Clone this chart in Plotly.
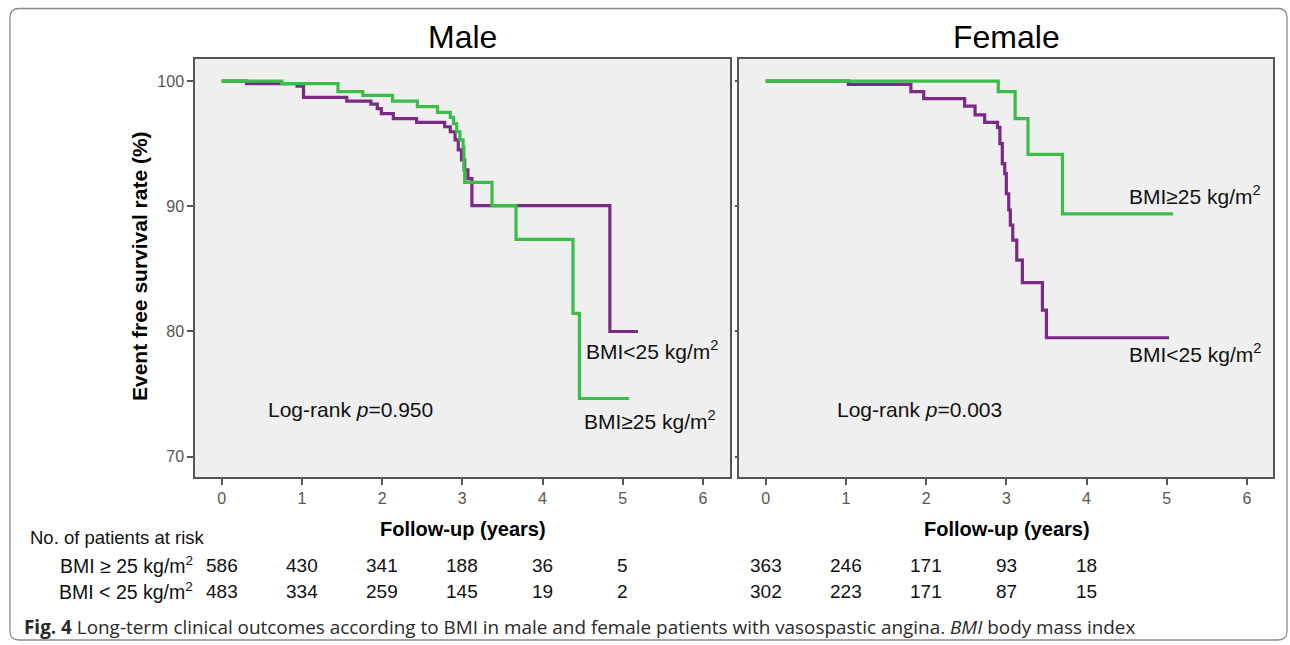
import plotly.graph_objects as go

# ---------------- data ----------------
male_ge25_t = [0, 0.75, 1.45, 1.76, 2.13, 2.44, 2.69, 2.85, 2.89, 2.93, 2.97, 3.01, 3.02, 3.03, 3.37, 3.67, 4.38, 4.46, 5.08]
male_ge25_s = [100, 99.8, 99.15, 98.85, 98.4, 97.95, 97.5, 97.1, 96.6, 95.95, 95.3, 94.75, 92.9, 91.9, 90.05, 87.35, 81.45, 74.65, 74.65]

male_lt25_t = [0, 0.31, 0.94, 1.02, 1.56, 1.86, 1.94, 1.99, 2.14, 2.43, 2.78, 2.85, 2.91, 2.95, 2.99, 3.03, 3.07, 3.12, 4.84, 5.19]
male_lt25_s = [100, 99.8, 99.6, 98.7, 98.4, 98.15, 97.8, 97.4, 97.0, 96.7, 96.35, 95.95, 95.3, 94.5, 93.7, 92.9, 92.2, 90.05, 80.0, 80.0]

female_ge25_t = [0, 2.90, 3.11, 3.27, 3.70, 5.08]
female_ge25_s = [100, 99.15, 97.0, 94.15, 89.4, 89.4]

female_lt25_t = [0, 1.03, 1.81, 1.97, 2.48, 2.61, 2.73, 2.89, 2.92, 2.95, 2.98, 3.00, 3.03, 3.05, 3.08, 3.13, 3.20, 3.45, 3.50, 5.03]
female_lt25_s = [100, 99.73, 99.15, 98.6, 98.0, 97.3, 96.7, 96.3, 95.0, 93.4, 92.6, 91.0, 89.7, 88.5, 87.3, 85.7, 83.9, 81.7, 79.5, 79.5]

x_ticks = [0, 1, 2, 3, 4, 5, 6]
y_ticks = [70, 80, 90, 100]

risk_years_male = [0, 1, 2, 3, 4, 5]
risk_male_ge25 = [586, 430, 341, 188, 36, 5]
risk_male_lt25 = [483, 334, 259, 145, 19, 2]
risk_years_female = [0, 1, 2, 3, 4]
risk_female_ge25 = [363, 246, 171, 93, 18]
risk_female_lt25 = [302, 223, 171, 87, 15]

panel_titles = ["Male", "Female"]
p_values = ["0.950", "0.003"]

# ---------------- style ----------------
W, H = 1290, 645
GREEN = "#3bbd48"
PURPLE = "#7a2a84"
AXIS = "#555555"
FONT = "Liberation Sans, Arial, sans-serif"

def px(x):
    return x / W

def py(y):
    return 1 - y / H

fig = go.Figure()

def add_curve(t, s, color, xa, ya):
    fig.add_trace(go.Scatter(x=t, y=s, mode="lines", line=dict(color=color, width=3.2, shape="hv"),
                             xaxis=xa, yaxis=ya, showlegend=False, hoverinfo="skip"))

add_curve(male_lt25_t, male_lt25_s, PURPLE, "x", "y")
add_curve(male_ge25_t, male_ge25_s, GREEN, "x", "y")
add_curve(female_lt25_t, female_lt25_s, PURPLE, "x2", "y2")
add_curve(female_ge25_t, female_ge25_s, GREEN, "x2", "y2")

ax_common = dict(showgrid=False, zeroline=False, showline=True, linecolor=AXIS, linewidth=1.5,
                 mirror=True, ticks="outside", tickcolor=AXIS, tickwidth=1.5,
                 tickfont=dict(family=FONT, size=16, color="#555555"))

fig.update_layout(
    width=W, height=H,
    margin=dict(l=0, r=0, t=0, b=0),
    paper_bgcolor="white", plot_bgcolor="#efefef",
    xaxis=dict(domain=[px(195), px(730)], range=[-0.333, 6.338], tickvals=x_ticks, ticklen=6,
               anchor="y", **ax_common),
    yaxis=dict(domain=[py(477), py(59)], range=[68.38, 101.76], tickvals=y_ticks, ticklen=6,
               anchor="x", **ax_common),
    xaxis2=dict(domain=[px(738.7), px(1273)], range=[-0.337, 6.325], tickvals=x_ticks, ticklen=6,
                anchor="y2", **ax_common),
    yaxis2=dict(domain=[py(477), py(59)], range=[68.38, 101.76], tickvals=y_ticks, ticklen=2,
                showticklabels=False, anchor="x2", **ax_common),
)

ann = []
def A(text, x, y, xref="paper", yref="paper", size=17, xanchor="center", yanchor="middle",
      color="#111111", family=FONT, angle=0):
    ann.append(dict(text=text, x=x, y=y, xref=xref, yref=yref, showarrow=False,
                    xanchor=xanchor, yanchor=yanchor, textangle=angle,
                    font=dict(family=family, size=size, color=color)))

# panel titles
A(panel_titles[0], px(462), py(37), size=32, color="#000000")
A(panel_titles[1], px(1006), py(37), size=32, color="#000000")

# axis titles
A("<b>Event free survival rate (%)</b>", px(139), py(266), size=21, angle=-90, color="#000000")
A("<b>Follow-up (years)</b>", px(463), py(529), size=20, color="#000000")
A("<b>Follow-up (years)</b>", px(1007), py(529), size=20, color="#000000")

# curve labels
A("BMI<25 kg/m<sup>2</sup>", 5.37, 78.5, xref="x", yref="y", size=21)
A("BMI≥25 kg/m<sup>2</sup>", 5.34, 72.9, xref="x", yref="y", size=21)
A("BMI≥25 kg/m<sup>2</sup>", 5.35, 90.9, xref="x2", yref="y2", size=21)
A("BMI<25 kg/m<sup>2</sup>", 5.35, 78.3, xref="x2", yref="y2", size=21)

# log-rank
A("Log-rank <i>p</i>=" + p_values[0], 1.6, 73.8, xref="x", yref="y", size=21)
A("Log-rank <i>p</i>=" + p_values[1], 1.92, 73.8, xref="x2", yref="y2", size=21)

# risk table
A("No. of patients at risk", px(28), py(537), size=18.5, xanchor="left")
A("BMI ≥ 25 kg/m<sup>2</sup>", px(195), py(565), size=19.5, xanchor="right")
A("BMI < 25 kg/m<sup>2</sup>", px(195), py(591), size=19.5, xanchor="right")
for yr, n in zip(risk_years_male, risk_male_ge25):
    A(str(n), yr, py(565), xref="x", size=19)
for yr, n in zip(risk_years_male, risk_male_lt25):
    A(str(n), yr, py(591), xref="x", size=19)
for yr, n in zip(risk_years_female, risk_female_ge25):
    A(str(n), yr, py(565), xref="x2", size=19)
for yr, n in zip(risk_years_female, risk_female_lt25):
    A(str(n), yr, py(591), xref="x2", size=19)

# caption
A("<b>Fig. 4</b> Long-term clinical outcomes according to BMI in male and female patients with vasospastic angina. "
  "<i>BMI</i> body mass index", px(22), py(627), size=18.9, xanchor="left", color="#2a2a2a",
  family="Open Sans, sans-serif")

fig.update_layout(annotations=ann)

# outer rounded border
x0, x1, y0, y1, r = 10, 1287, 8.5, 640, 9
def P(x, y):
    return f"{px(x)},{py(y)}"
path = (f"M {P(x0 + r, y0)} L {P(x1 - r, y0)} Q {P(x1, y0)} {P(x1, y0 + r)} "
        f"L {P(x1, y1 - r)} Q {P(x1, y1)} {P(x1 - r, y1)} "
        f"L {P(x0 + r, y1)} Q {P(x0, y1)} {P(x0, y1 - r)} "
        f"L {P(x0, y0 + r)} Q {P(x0, y0)} {P(x0 + r, y0)} Z")
fig.add_shape(type="path", path=path, xref="paper", yref="paper",
              line=dict(color="#8a8a8a", width=1.3), layer="below")

# remove the browser's default page margin so the figure fills the window exactly
fig.write_html("out.html",
               config={"displayModeBar": False},
               post_script="document.body.style.margin='0';"
                           "document.documentElement.style.overflow='hidden';")
